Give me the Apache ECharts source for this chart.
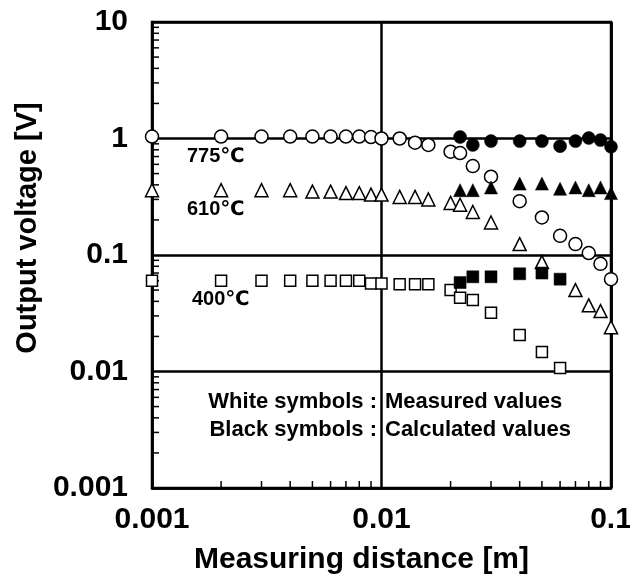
<!DOCTYPE html>
<html>
<head>
<meta charset="utf-8">
<script src="https://cdn.jsdelivr.net/npm/echarts@6/dist/echarts.min.js"></script>
<style>
  html, body { margin: 0; padding: 0; background: #ffffff; }
  #main { width: 630px; height: 584px; }
</style>
</head>
<body>
<div id="main"></div>
<script>
// tick labels
var xTickLabels = ['0.001', '0.01', '0.1'];
var yTickLabels = ['0.001', '0.01', '0.1', '1', '10'];

// 775℃ measured (white circles)
var xMeas775 = [0.001, 0.002, 0.003, 0.004, 0.005, 0.006, 0.007, 0.008, 0.009, 0.01, 0.012, 0.014, 0.016, 0.02, 0.022, 0.025, 0.03, 0.04, 0.05, 0.06, 0.07, 0.08, 0.09, 0.1];
var yMeas775 = [1.04, 1.04, 1.04, 1.04, 1.04, 1.04, 1.04, 1.04, 1.03, 1.0, 1.0, 0.92, 0.88, 0.77, 0.75, 0.58, 0.47, 0.29, 0.21, 0.146, 0.124, 0.104, 0.084, 0.062];
// 775℃ calculated (black circles)
var xCalc775 = [0.022, 0.025, 0.03, 0.04, 0.05, 0.06, 0.07, 0.08, 0.09, 0.1];
var yCalc775 = [1.03, 0.88, 0.95, 0.95, 0.95, 0.86, 0.95, 1.01, 0.97, 0.85];

// 610℃ measured (white triangles)
var xMeas610 = [0.001, 0.002, 0.003, 0.004, 0.005, 0.006, 0.007, 0.008, 0.009, 0.01, 0.012, 0.014, 0.016, 0.02, 0.022, 0.025, 0.03, 0.04, 0.05, 0.07, 0.08, 0.09, 0.1];
var yMeas610 = [0.36, 0.36, 0.36, 0.36, 0.35, 0.35, 0.34, 0.34, 0.33, 0.33, 0.315, 0.315, 0.30, 0.28, 0.27, 0.234, 0.19, 0.124, 0.087, 0.05, 0.037, 0.033, 0.024];
// 610℃ calculated (black triangles)
var xCalc610 = [0.022, 0.025, 0.03, 0.04, 0.05, 0.06, 0.07, 0.08, 0.09, 0.1];
var yCalc610 = [0.36, 0.36, 0.38, 0.41, 0.41, 0.37, 0.38, 0.36, 0.38, 0.34];

// 400℃ measured (white squares)
var xMeas400 = [0.001, 0.002, 0.003, 0.004, 0.005, 0.006, 0.007, 0.008, 0.009, 0.01, 0.012, 0.014, 0.016, 0.02, 0.022, 0.025, 0.03, 0.04, 0.05, 0.06];
var yMeas400 = [0.06, 0.06, 0.06, 0.06, 0.06, 0.06, 0.06, 0.06, 0.057, 0.057, 0.056, 0.056, 0.056, 0.05, 0.043, 0.041, 0.032, 0.0206, 0.0147, 0.0107];
// 400℃ calculated (black squares)
var xCalc400 = [0.022, 0.025, 0.03, 0.04, 0.05, 0.06];
var yCalc400 = [0.058, 0.065, 0.065, 0.069, 0.07, 0.062];

var FONT = '"Liberation Sans", "DejaVu Sans", Arial, sans-serif';

function pairs(xs, ys) {
  return xs.map(function (x, i) { return [x, ys[i]]; });
}

// minor tick positions 2..9 in each decade
function minorTicks(fromExp, toExp) {
  var out = [];
  for (var e = fromExp; e < toExp; e++) {
    for (var m = 2; m <= 9; m++) out.push(+(m * Math.pow(10, e)).toPrecision(3));
  }
  return out;
}
var xMinor = minorTicks(-3, -1);
var yMinor = minorTicks(-3, 1);

var myChart = echarts.init(document.getElementById('main'));

function hollow(name, symbol, size, data) {
  return {
    name: name, type: 'scatter', symbol: symbol, symbolSize: size, data: data,
    itemStyle: { color: '#ffffff', borderColor: '#000000', borderWidth: 1.5, opacity: 1 },
    emphasis: { disabled: true },
    z: 3
  };
}
function solid(name, symbol, size, data) {
  return {
    name: name, type: 'scatter', symbol: symbol, symbolSize: size, data: data,
    itemStyle: { color: '#000000', borderColor: '#000000', borderWidth: 0.5, opacity: 1 },
    emphasis: { disabled: true },
    z: 4
  };
}

myChart.setOption({
  animation: false,
  backgroundColor: '#ffffff',
  grid: { left: 152, right: 19, top: 22, bottom: 96, outerBoundsMode: 'none', containLabel: false },
  xAxis: {
    type: 'log', logBase: 10, min: 0.001, max: 0.1,
    name: 'Measuring distance [m]',
    nameLocation: 'middle', nameGap: 57,
    nameTextStyle: { fontFamily: FONT, fontWeight: 'bold', fontSize: 30, color: '#000', padding: [0, 40, 0, 0] },
    axisLine: { show: true, lineStyle: { color: '#000', width: 2.5 } },
    axisTick: { show: false },
    axisLabel: {
      margin: 17, color: '#000', fontFamily: FONT, fontWeight: 'bold', fontSize: 30,
      formatter: function (v) {
        var i = Math.round(Math.log10(v)) + 3;
        return xTickLabels[i] || '';
      }
    },
    splitLine: { show: true, lineStyle: { color: '#000', width: 2.5 } }
  },
  yAxis: {
    type: 'log', logBase: 10, min: 0.001, max: 10,
    name: 'Output voltage [V]',
    nameLocation: 'middle', nameGap: 110,
    nameTextStyle: { fontFamily: FONT, fontWeight: 'bold', fontSize: 29, color: '#000', padding: [0, 0, 0, 54] },
    axisLine: { show: true, lineStyle: { color: '#000', width: 2.5 } },
    axisTick: { show: false },
    axisLabel: {
      margin: 24, color: '#000', fontFamily: FONT, fontWeight: 'bold', fontSize: 30,
      formatter: function (v) {
        var i = Math.round(Math.log10(v)) + 3;
        return yTickLabels[i] || '';
      }
    },
    splitLine: { show: true, lineStyle: { color: '#000', width: 2.5 } }
  },
  graphic: [
    // frame top + right
    { type: 'rect', shape: { x: 152, y: 22, width: 459, height: 466 }, style: { fill: 'none', stroke: '#000', lineWidth: 2.5 }, z: 1, silent: true },
    { type: 'text', left: 187, top: 146, style: { text: '775℃', font: 'bold 20px ' + FONT, fill: '#000' } },
    { type: 'text', left: 187, top: 199, style: { text: '610℃', font: 'bold 20px ' + FONT, fill: '#000' } },
    { type: 'text', left: 192, top: 289, style: { text: '400℃', font: 'bold 20px ' + FONT, fill: '#000' } },
    { type: 'text', right: 630 - 377, top: 391, style: { text: 'White symbols :', font: 'bold 22px ' + FONT, fill: '#000', align: 'right' } },
    { type: 'text', left: 385, top: 391, style: { text: 'Measured values', font: 'bold 22px ' + FONT, fill: '#000' } },
    { type: 'text', right: 630 - 377, top: 419, style: { text: 'Black symbols :', font: 'bold 22px ' + FONT, fill: '#000', align: 'right' } },
    { type: 'text', left: 385, top: 419, style: { text: 'Calculated values', font: 'bold 22px ' + FONT, fill: '#000' } }
  ],
  series: [
    hollow('775 measured', 'circle', 13, pairs(xMeas775, yMeas775)),
    hollow('610 measured', 'triangle', 13, pairs(xMeas610, yMeas610)),
    hollow('400 measured', 'rect', 11, pairs(xMeas400, yMeas400)),
    solid('775 calculated', 'circle', 13, pairs(xCalc775, yCalc775)),
    solid('610 calculated', 'triangle', 13, pairs(xCalc610, yCalc610)),
    solid('400 calculated', 'rect', 12, pairs(xCalc400, yCalc400)),
    {
      // inward minor ticks on the left axis
      type: 'custom', silent: true, clip: false, z: 2,
      data: yMinor.map(function (v) { return [0.001, v]; }),
      renderItem: function (params, api) {
        var p = api.coord([api.value(0), api.value(1)]);
        return { type: 'line', shape: { x1: p[0], y1: p[1], x2: p[0] + 7, y2: p[1] }, style: { stroke: '#000', lineWidth: 1.5 } };
      }
    },
    {
      // inward minor ticks on the bottom axis
      type: 'custom', silent: true, clip: false, z: 2,
      data: xMinor.map(function (v) { return [v, 0.001]; }),
      renderItem: function (params, api) {
        var p = api.coord([api.value(0), api.value(1)]);
        return { type: 'line', shape: { x1: p[0], y1: p[1], x2: p[0], y2: p[1] - 7 }, style: { stroke: '#000', lineWidth: 1.5 } };
      }
    }
  ]
});
</script>
</body>
</html>
